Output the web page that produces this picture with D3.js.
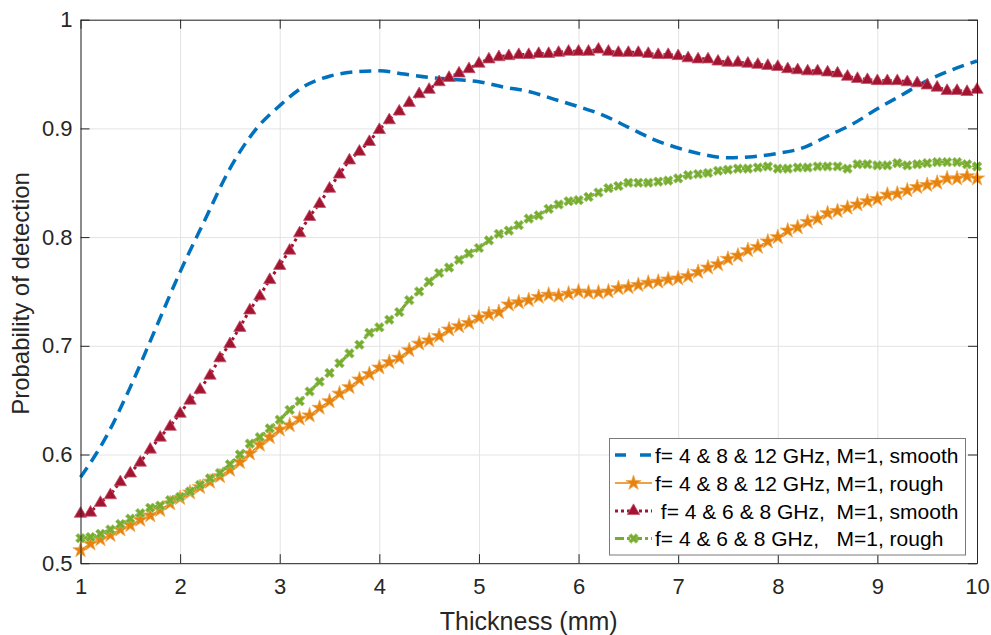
<!DOCTYPE html>
<html>
<head>
<meta charset="utf-8">
<script src="https://cdn.jsdelivr.net/npm/d3@7/dist/d3.min.js"></script>
<style>
  html, body { margin: 0; padding: 0; background: #fff; }
  svg { display: block; font-family: Arial, "Liberation Sans", sans-serif; }
</style>
</head>
<body>
<svg id="chart" width="991" height="635"></svg>
<script>
// ---------------- DATA ----------------
const thicknessFine = [1.0,1.1,1.2,1.3,1.4,1.5,1.6,1.7,1.8,1.9,2.0,2.1,2.2,2.3,2.4,2.5,2.6,2.7,2.8,2.9,
  3.0,3.1,3.2,3.3,3.4,3.5,3.6,3.7,3.8,3.9,4.0,4.1,4.2,4.3,4.4,4.5,4.6,4.7,4.8,4.9,
  5.0,5.1,5.2,5.3,5.4,5.5,5.6,5.7,5.8,5.9,6.0,6.1,6.2,6.3,6.4,6.5,6.6,6.7,6.8,6.9,
  7.0,7.1,7.2,7.3,7.4,7.5,7.6,7.7,7.8,7.9,8.0,8.1,8.2,8.3,8.4,8.5,8.6,8.7,8.8,8.9,
  9.0,9.1,9.2,9.3,9.4,9.5,9.6,9.7,9.8,9.9,10.0];

const thicknessCoarse = [1.0,1.25,1.5,1.75,2.0,2.25,2.5,2.75,3.0,3.25,3.5,3.75,4.0,4.25,4.5,4.75,
  5.0,5.25,5.5,5.75,6.0,6.25,6.5,6.75,7.0,7.25,7.5,7.75,8.0,8.25,8.5,8.75,9.0,9.25,9.5,9.75,10.0];

// f = 4 & 8 & 12 GHz, M=1, smooth (dashed, no markers)
const smooth4812 = [0.579,0.615,0.662,0.715,0.768,0.816,0.863,0.898,0.921,0.939,0.948,0.952,0.953,0.950,0.947,0.945,
  0.943,0.938,0.934,0.927,0.920,0.912,0.901,0.890,0.882,0.876,0.873,0.874,0.877,0.882,0.893,0.904,0.918,0.931,0.944,0.954,0.962];

// f = 4 & 8 & 12 GHz, M=1, rough (stars)
const rough4812 = [0.512,0.518,0.522,0.526,0.531,0.535,0.540,0.544,0.549,0.555,0.560,0.565,0.570,0.575,0.580,0.586,0.593,0.601,0.609,0.616,
  0.623,0.627,0.633,0.636,0.643,0.649,0.656,0.662,0.669,0.674,0.680,0.685,0.689,0.696,0.702,0.705,0.709,0.715,0.718,0.721,
  0.726,0.729,0.731,0.738,0.740,0.742,0.745,0.747,0.746,0.748,0.750,0.749,0.749,0.750,0.753,0.754,0.756,0.758,0.759,0.761,
  0.762,0.764,0.768,0.772,0.775,0.780,0.783,0.788,0.791,0.796,0.800,0.806,0.809,0.814,0.817,0.822,0.824,0.827,0.830,0.833,
  0.835,0.839,0.840,0.843,0.846,0.848,0.850,0.854,0.854,0.856,0.854];

// f = 4 & 6 & 8 GHz, M=1, smooth (triangles)
const smooth468 = [0.546,0.547,0.556,0.563,0.575,0.583,0.593,0.605,0.616,0.626,0.638,0.650,0.660,0.673,0.689,0.702,0.717,0.733,0.746,0.761,
  0.774,0.788,0.804,0.819,0.831,0.845,0.858,0.871,0.879,0.888,0.899,0.908,0.916,0.924,0.932,0.936,0.943,0.947,0.951,0.955,
  0.960,0.964,0.966,0.967,0.968,0.968,0.969,0.969,0.970,0.971,0.971,0.971,0.973,0.971,0.970,0.970,0.970,0.969,0.968,0.968,
  0.967,0.965,0.964,0.964,0.962,0.961,0.961,0.960,0.959,0.958,0.957,0.955,0.954,0.953,0.953,0.952,0.951,0.948,0.946,0.945,
  0.944,0.944,0.944,0.943,0.942,0.940,0.938,0.935,0.935,0.934,0.936];

// f = 4 & 6 & 8 GHz, M=1, rough (crosses)
const rough468 = [0.523,0.524,0.527,0.531,0.536,0.541,0.546,0.551,0.553,0.558,0.561,0.566,0.572,0.578,0.583,0.591,0.600,0.610,0.616,0.624,
  0.632,0.641,0.649,0.658,0.667,0.675,0.684,0.693,0.701,0.712,0.717,0.724,0.731,0.742,0.750,0.759,0.767,0.772,0.779,0.785,
  0.790,0.797,0.803,0.806,0.811,0.817,0.820,0.826,0.830,0.833,0.834,0.837,0.841,0.845,0.847,0.850,0.850,0.850,0.851,0.852,
  0.854,0.857,0.858,0.859,0.861,0.862,0.863,0.863,0.864,0.865,0.863,0.863,0.864,0.864,0.865,0.865,0.865,0.863,0.867,0.867,
  0.866,0.866,0.868,0.866,0.867,0.868,0.869,0.869,0.869,0.867,0.865];

const xTicks = [1,2,3,4,5,6,7,8,9,10];
const yTicks = [0.5,0.6,0.7,0.8,0.9,1.0];
const yTickLabels = ["0.5","0.6","0.7","0.8","0.9","1"];

const seriesNames = [
  "f= 4 & 8 & 12 GHz, M=1, smooth",
  "f= 4 & 8 & 12 GHz, M=1, rough",
  " f= 4 & 6 & 8 GHz,  M=1, smooth",
  "f= 4 & 6 & 8 GHz,   M=1, rough"
];
const xLabel = "Thickness (mm)";
const yLabel = "Probability of detection";

// ---------------- LAYOUT ----------------
const svg = d3.select("#chart");
const L = 80.5, R = 977, T = 19.7, B = 563.2;

const x = d3.scaleLinear().domain([1, 10]).range([L, R]);
const y = d3.scaleLinear().domain([0.5, 1]).range([B, T]);

const colBlue = "#0072BD", colOrange = "#E6820E", colRed = "#A2142F", colGreen = "#77AC30";

// grid
const grid = svg.append("g").attr("class", "grid");
grid.append("g").attr("transform", `translate(0,${B})`)
  .call(d3.axisBottom(x).tickValues(xTicks).tickSize(-(B - T)).tickFormat(""))
  .call(g => g.select(".domain").remove())
  .call(g => g.selectAll("line").attr("stroke", "#e3e3e3").attr("stroke-width", 1));
grid.append("g").attr("transform", `translate(${L},0)`)
  .call(d3.axisLeft(y).tickValues(yTicks).tickSize(-(R - L)).tickFormat(""))
  .call(g => g.select(".domain").remove())
  .call(g => g.selectAll("line").attr("stroke", "#e3e3e3").attr("stroke-width", 1));

const plot = svg.append("g");

function pts(xs, ys) { return xs.map((d, i) => [d, ys[i]]); }

const lineSmooth = d3.line().x(d => x(d[0])).y(d => y(d[1])).curve(d3.curveMonotoneX);
const lineStraight = d3.line().x(d => x(d[0])).y(d => y(d[1]));

// blue dashed
plot.append("path").datum(pts(thicknessCoarse, smooth4812))
  .attr("d", lineSmooth).attr("fill", "none").attr("stroke", colBlue)
  .attr("stroke-width", 3.5).attr("stroke-dasharray", "12 7");

// orange solid with stars
plot.append("path").datum(pts(thicknessFine, rough4812))
  .attr("d", lineStraight).attr("fill", "none").attr("stroke", colOrange).attr("stroke-width", 1.6);
const starSym = d3.symbol().type(d3.symbolStar).size(72);
plot.append("g").selectAll("path").data(pts(thicknessFine, rough4812)).join("path")
  .attr("transform", d => `translate(${x(d[0])},${y(d[1])})`)
  .attr("d", starSym).attr("fill", colOrange).attr("stroke", "#f0a850").attr("stroke-width", 0.8);

// red dotted with triangles
plot.append("path").datum(pts(thicknessFine, smooth468))
  .attr("d", lineStraight).attr("fill", "none").attr("stroke", colRed)
  .attr("stroke-width", 3).attr("stroke-dasharray", "3 3.5");
const triSym = d3.symbol().type(d3.symbolTriangle).size(66);
plot.append("g").selectAll("path").data(pts(thicknessFine, smooth468)).join("path")
  .attr("transform", d => `translate(${x(d[0])},${y(d[1]) + 0.5})`)
  .attr("d", triSym).attr("fill", colRed).attr("stroke", "#c45670").attr("stroke-width", 0.8);

// green dash-dot with crosses
plot.append("path").datum(pts(thicknessFine, rough468))
  .attr("d", lineStraight).attr("fill", "none").attr("stroke", colGreen)
  .attr("stroke-width", 3).attr("stroke-dasharray", "9 4 3 4");
const crossSym = d3.symbol().type(d3.symbolCross).size(58);
plot.append("g").selectAll("path").data(pts(thicknessFine, rough468)).join("path")
  .attr("transform", d => `translate(${x(d[0])},${y(d[1])}) rotate(45)`)
  .attr("d", crossSym).attr("fill", colGreen).attr("stroke", "#9cc86a").attr("stroke-width", 0.8);

// axes
const axisColor = "#262626";
const fontTick = 22;
const xAxisB = svg.append("g").attr("transform", `translate(0,${B})`)
  .call(d3.axisBottom(x).tickValues(xTicks).tickSizeInner(-9).tickSizeOuter(0).tickPadding(15).tickFormat(d3.format("d")));
const xAxisT = svg.append("g").attr("transform", `translate(0,${T})`)
  .call(d3.axisTop(x).tickValues(xTicks).tickSizeInner(-9).tickSizeOuter(0).tickFormat(""));
const yAxisL = svg.append("g").attr("transform", `translate(${L},0)`)
  .call(d3.axisLeft(y).tickValues(yTicks).tickSizeInner(-9).tickSizeOuter(0).tickPadding(8).tickFormat((d, i) => yTickLabels[i]));
const yAxisR = svg.append("g").attr("transform", `translate(${R},0)`)
  .call(d3.axisRight(y).tickValues(yTicks).tickSizeInner(-9).tickSizeOuter(0).tickFormat(""));
[xAxisB, xAxisT, yAxisL, yAxisR].forEach(g => {
  g.select(".domain").attr("stroke", axisColor).attr("stroke-width", 1);
  g.selectAll(".tick line").attr("stroke", axisColor).attr("stroke-width", 1);
  g.selectAll(".tick text").attr("fill", axisColor).attr("font-size", fontTick)
    .attr("font-family", "Arial, 'Liberation Sans', sans-serif");
});

// axis labels
svg.append("text").attr("x", (L + R) / 2).attr("y", 630)
  .attr("text-anchor", "middle").attr("font-size", 25).attr("fill", axisColor).text(xLabel);
svg.append("text").attr("transform", `translate(29,${(T + B) / 2 + 2}) rotate(-90)`)
  .attr("text-anchor", "middle").attr("font-size", 24).attr("fill", axisColor).text(yLabel);

// legend
const lg = svg.append("g");
lg.append("rect").attr("x", 609.5).attr("y", 438.5).attr("width", 356).attr("height", 116.5)
  .attr("fill", "#fff").attr("stroke", "#7a7a7a").attr("stroke-width", 1);
const rowsY = [455, 483, 511, 538.5];
const sx0 = 615, sx1 = 652, sxm = 633.5;
// blue
lg.append("line").attr("x1", sx0).attr("x2", sx1).attr("y1", rowsY[0]).attr("y2", rowsY[0])
  .attr("stroke", colBlue).attr("stroke-width", 3.5).attr("stroke-dasharray", "11 14");
// orange
lg.append("line").attr("x1", sx0).attr("x2", sx1).attr("y1", rowsY[1]).attr("y2", rowsY[1])
  .attr("stroke", colOrange).attr("stroke-width", 1.6);
lg.append("path").attr("transform", `translate(${sxm},${rowsY[1]})`).attr("d", starSym)
  .attr("fill", colOrange).attr("stroke", "#f0a850").attr("stroke-width", 0.8);
// red
lg.append("line").attr("x1", sx0).attr("x2", sx1).attr("y1", rowsY[2]).attr("y2", rowsY[2])
  .attr("stroke", colRed).attr("stroke-width", 3).attr("stroke-dasharray", "3 3");
lg.append("path").attr("transform", `translate(${sxm},${rowsY[2]})`).attr("d", triSym)
  .attr("fill", colRed).attr("stroke", "#c45670").attr("stroke-width", 0.8);
// green
lg.append("line").attr("x1", sx0).attr("x2", sx1).attr("y1", rowsY[3]).attr("y2", rowsY[3])
  .attr("stroke", colGreen).attr("stroke-width", 3).attr("stroke-dasharray", "9 3 3 3");
lg.append("path").attr("transform", `translate(${sxm},${rowsY[3]}) rotate(45)`).attr("d", crossSym)
  .attr("fill", colGreen).attr("stroke", "#9cc86a").attr("stroke-width", 0.8);

lg.selectAll("text.lab").data(seriesNames).join("text").attr("class", "lab")
  .attr("x", 655).attr("y", (d, i) => rowsY[i]).attr("dy", "0.36em")
  .attr("font-size", 21).attr("fill", "#000").style("white-space", "pre")
  .text(d => d);
</script>
</body>
</html>
